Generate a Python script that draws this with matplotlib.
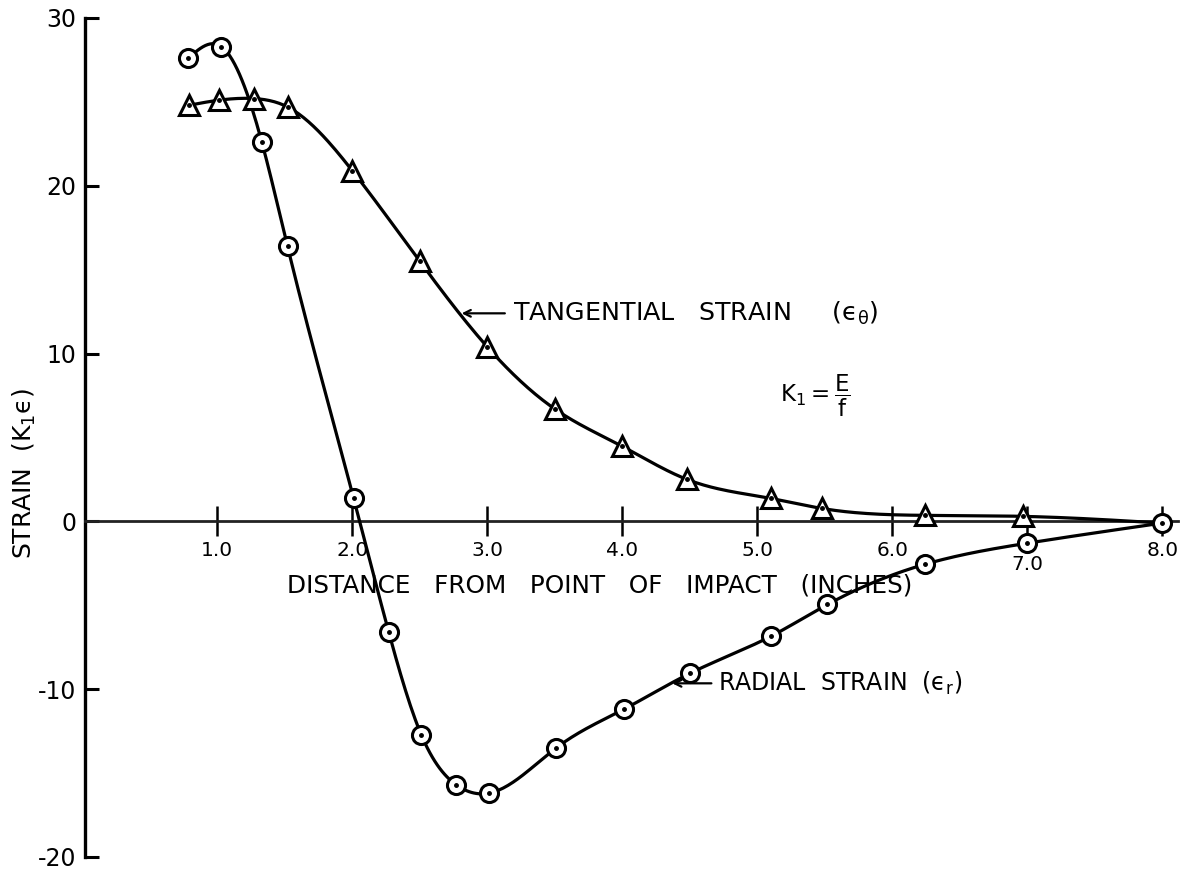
import numpy as np
import matplotlib
matplotlib.use("Agg")
import matplotlib.pyplot as plt

plt.rcParams["font.family"] = ["DejaVu Sans"]
plt.rcParams["mathtext.fontset"] = "dejavusans"
plt.rcParams["mathtext.default"] = "regular"

# Radial strain gauge readings (distance in inches, strain K1*eps)
radial_x = [0.785, 1.03, 1.33, 1.52, 2.01, 2.27, 2.51, 2.77, 3.01, 3.51,
            4.01, 4.50, 5.10, 5.52, 6.24, 7.00, 8.00]
radial_y = [27.6, 28.3, 22.6, 16.4, 1.37, -6.6, -12.7, -15.7, -16.2, -13.5,
            -11.2, -9.06, -6.85, -4.95, -2.56, -1.3, -0.1]

# Tangential strain gauge readings
tang_x = [0.79, 1.01, 1.27, 1.52, 2.00, 2.50, 3.00, 3.50, 4.00, 4.48,
          5.10, 5.48, 6.24, 6.97]
tang_y = [24.8, 25.1, 25.2, 24.7, 20.9, 15.5, 10.4, 6.7, 4.47, 2.5,
          1.37, 0.77, 0.36, 0.3]

x_ticks = [1.0, 2.0, 3.0, 4.0, 5.0, 6.0, 7.0, 8.0]
x_tick_labels = ["1.0", "2.0", "3.0", "4.0", "5.0", "6.0", "7.0", "8.0"]
y_ticks = [-20, -10, 0, 10, 20, 30]
y_tick_labels = ["-20", "-10", "0", "10", "20", "30"]

EPS = "\u03f5"  # lunate epsilon


def natural_spline(x, y, n=400):
    """Natural cubic spline through (x, y), sampled on n points."""
    x = np.asarray(x, float)
    y = np.asarray(y, float)
    k = len(x)
    h = np.diff(x)
    A = np.zeros((k, k))
    b = np.zeros(k)
    A[0, 0] = A[-1, -1] = 1.0
    for i in range(1, k - 1):
        A[i, i - 1] = h[i - 1]
        A[i, i] = 2 * (h[i - 1] + h[i])
        A[i, i + 1] = h[i]
        b[i] = 6 * ((y[i + 1] - y[i]) / h[i] - (y[i] - y[i - 1]) / h[i - 1])
    M = np.linalg.solve(A, b)
    xs = np.linspace(x[0], x[-1], n)
    idx = np.clip(np.searchsorted(x, xs) - 1, 0, k - 2)
    x0, x1 = x[idx], x[idx + 1]
    hh = x1 - x0
    t0, t1 = x1 - xs, xs - x0
    ys = (M[idx] * t0 ** 3 / (6 * hh) + M[idx + 1] * t1 ** 3 / (6 * hh)
          + (y[idx] / hh - M[idx] * hh / 6) * t0
          + (y[idx + 1] / hh - M[idx + 1] * hh / 6) * t1)
    return xs, ys


fig = plt.figure(figsize=(11.92, 8.72), dpi=100)
ax = fig.add_axes([85 / 1192, 15 / 872, 1093.5 / 1192, 839 / 872])
ax.set_xlim(0.02, 8.12)
ax.set_ylim(-20, 30)

# Smooth curves through the gauge readings; tangential curve runs into the last gauge
rx, ry = natural_spline(radial_x, radial_y)
tx, ty = natural_spline(tang_x + [radial_x[-1]], tang_y + [radial_y[-1]])
ax.plot(rx, ry, color="black", lw=2.3, zorder=3, solid_capstyle="round")
ax.plot(tx, ty, color="black", lw=2.3, zorder=3, solid_capstyle="round")

ax.plot(radial_x, radial_y, ls="none", marker="o", ms=13, mfc="white",
        mec="black", mew=2.2, zorder=4)
ax.plot(radial_x, radial_y, ls="none", marker="o", ms=2.5, mfc="black",
        mec="black", zorder=5)
ax.plot(tang_x, tang_y, ls="none", marker="^", ms=14, mfc="white",
        mec="black", mew=2.2, zorder=4)
ax.plot(tang_x, tang_y, ls="none", marker="o", ms=2.5, mfc="black",
        mec="black", zorder=5)

# Axes: left scale, and the distance axis drawn along zero strain
for s in ("top", "right"):
    ax.spines[s].set_visible(False)
ax.spines["left"].set_linewidth(2.4)
ax.spines["bottom"].set_position(("data", 0))
ax.spines["bottom"].set_linewidth(2.0)
ax.spines["bottom"].set_color("#222222")

ax.set_yticks(y_ticks)
ax.set_yticklabels(y_tick_labels, fontsize=17)
ax.tick_params(axis="y", direction="in", length=10, width=2.2, pad=6)

ax.set_xticks(x_ticks)
ax.set_xticklabels(x_tick_labels, fontsize=14.5)
ax.tick_params(axis="x", direction="inout", length=22, width=1.8, pad=3)
# the 7.0 label sits lower, below the radial curve
ax.xaxis.get_major_ticks()[6].set_pad(13)

ax.set_xlabel("DISTANCE   FROM   POINT   OF   IMPACT   (INCHES)",
              fontsize=17.8)
ax.xaxis.set_label_coords(0.471, 0.338)

ax.set_ylabel("STRAIN  (K$_1$" + EPS + ")", fontsize=18, va="center")
ax.yaxis.set_label_coords(-0.055, 0.4565)

# Curve labels with pointer arrows
arrow = dict(arrowstyle="->", lw=1.6, color="black", mutation_scale=12,
             shrinkA=0, shrinkB=0)
ax.annotate("", xy=(2.81, 12.4), xytext=(3.13, 12.4), arrowprops=arrow)
ax.text(3.19, 12.4, "TANGENTIAL   STRAIN     (" + EPS + "$_{\\theta}$)",
        fontsize=18.3, ha="left", va="center")
ax.annotate("", xy=(4.37, -9.65), xytext=(4.66, -9.65), arrowprops=arrow)
ax.text(4.71, -9.65, "RADIAL  STRAIN  (" + EPS + "$_r$)", fontsize=17,
        ha="left", va="center")

ax.text(5.17, 7.5, r"$K_1 = \dfrac{E}{f}$", fontsize=16.5, ha="left",
        va="center")

fig.savefig("out.png", dpi=100)
